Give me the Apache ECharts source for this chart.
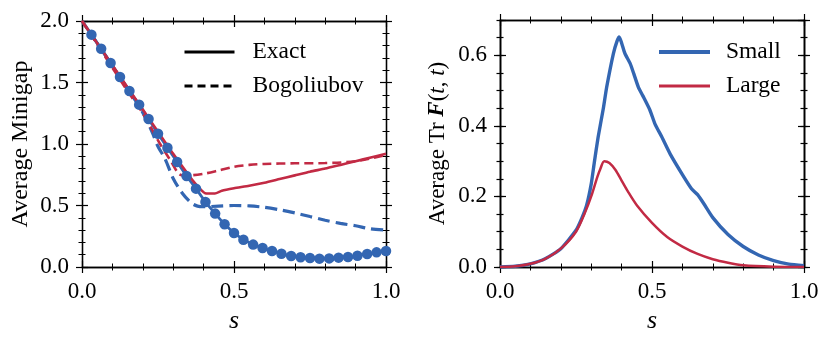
<!DOCTYPE html>
<html>
<head>
<meta charset="utf-8">
<script src="https://cdn.jsdelivr.net/npm/echarts@6/dist/echarts.min.js"></script>
<style>
  html, body { margin: 0; padding: 0; background: #fff; }
  #chart { width: 831px; height: 341px; }
</style>
</head>
<body>
<div id="chart"></div>
<script>
// left panel: average minigap
var sDots = [0.031, 0.063, 0.094, 0.125, 0.156, 0.188, 0.219, 0.25, 0.281, 0.313, 0.344, 0.375, 0.406, 0.438, 0.469, 0.5, 0.531, 0.563, 0.594, 0.625, 0.656, 0.688, 0.719, 0.75, 0.781, 0.813, 0.844, 0.875, 0.906, 0.938, 0.969, 1.0];
var smallExact = [1.889, 1.775, 1.659, 1.545, 1.431, 1.32, 1.203, 1.084, 0.97, 0.854, 0.74, 0.637, 0.528, 0.434, 0.347, 0.276, 0.222, 0.182, 0.154, 0.13, 0.108, 0.089, 0.079, 0.073, 0.068, 0.07, 0.076, 0.081, 0.092, 0.106, 0.119, 0.13];

var sSmallBog = [0, 0.05, 0.1, 0.15, 0.2, 0.23, 0.25, 0.273, 0.3, 0.33, 0.36, 0.38, 0.4, 0.45, 0.5, 0.55, 0.6, 0.65, 0.7, 0.75, 0.8, 0.85, 0.9, 0.95, 1.0];
var smallBog = [2.0, 1.82, 1.635, 1.45, 1.255, 1.1, 0.98, 0.88, 0.72, 0.6, 0.52, 0.495, 0.49, 0.495, 0.5, 0.497, 0.485, 0.465, 0.44, 0.41, 0.38, 0.355, 0.335, 0.31, 0.3];

var sLargeExact = [0, 0.05, 0.1, 0.15, 0.2, 0.25, 0.3, 0.35, 0.372, 0.39, 0.405, 0.437, 0.46, 0.5, 0.55, 0.6, 0.65, 0.7, 0.75, 0.8, 0.85, 0.9, 0.95, 1.0];
var largeExact = [2.0, 1.82, 1.64, 1.46, 1.28, 1.1, 0.92, 0.75, 0.68, 0.63, 0.6, 0.597, 0.62, 0.64, 0.66, 0.685, 0.715, 0.745, 0.775, 0.8, 0.83, 0.86, 0.89, 0.92];

var sLargeBog = [0, 0.05, 0.1, 0.15, 0.2, 0.257, 0.29, 0.317, 0.33, 0.35, 0.4, 0.45, 0.5, 0.55, 0.6, 0.7, 0.8, 0.9, 1.0];
var largeBog = [2.0, 1.81, 1.62, 1.43, 1.25, 1.0, 0.87, 0.76, 0.745, 0.745, 0.758, 0.785, 0.815, 0.83, 0.838, 0.843, 0.845, 0.86, 0.91];

// right panel: average Tr F(t,t)
var sSmall = [0, 0.05, 0.1, 0.15, 0.2, 0.25, 0.27, 0.285, 0.3, 0.31, 0.323, 0.34, 0.351, 0.373, 0.385, 0.392, 0.4, 0.411, 0.428, 0.44, 0.455, 0.47, 0.493, 0.51, 0.532, 0.56, 0.6, 0.63, 0.65, 0.67, 0.7, 0.75, 0.8, 0.85, 0.9, 0.95, 1.0];
var small = [0, 0.002, 0.009, 0.024, 0.052, 0.104, 0.14, 0.175, 0.235, 0.295, 0.369, 0.45, 0.51, 0.605, 0.64, 0.652, 0.635, 0.605, 0.577, 0.548, 0.51, 0.485, 0.445, 0.405, 0.369, 0.32, 0.262, 0.222, 0.205, 0.18, 0.14, 0.092, 0.058, 0.034, 0.018, 0.008, 0.004];

var sLarge = [0, 0.05, 0.1, 0.15, 0.2, 0.25, 0.28, 0.3, 0.32, 0.33, 0.343, 0.36, 0.38, 0.4, 0.42, 0.45, 0.5, 0.55, 0.6, 0.65, 0.7, 0.75, 0.8, 0.9, 1.0];
var large = [0, 0.002, 0.009, 0.024, 0.052, 0.1, 0.155, 0.2, 0.255, 0.278, 0.3, 0.295, 0.275, 0.245, 0.215, 0.175, 0.125, 0.085, 0.058, 0.037, 0.022, 0.012, 0.005, 0.001, 0];

var xTicks = [0, 1, 0.5];        // min, max, interval
var yTicksLeft = [0, 2, 0.5];
var yTicksRight = [0, 0.7, 0.2];

var BLUE = '#3366b2';
var RED = '#c22a44';
var FONT = 'Liberation Serif';

function pairs(xs, ys) {
  return xs.map(function (x, i) { return [x, ys[i]]; });
}

// matplotlib style ticks crossing the spine: one axis draws them outside, a twin draws them inside
function twinAxes(gridIndex, position, range, minorSplit, tickLen, main) {
  var res = [];
  [false, true].forEach(function (inside) {
    var ax = {
      type: 'value',
      gridIndex: gridIndex,
      position: position,
      min: range[0],
      max: range[1],
      interval: range[2],
      splitLine: { show: false },
      axisLine: { show: true, onZero: false, lineStyle: { color: '#000', width: 1.3 } },
      axisTick: { show: true, inside: inside, length: tickLen, lineStyle: { color: '#000', width: 1.2 } },
      minorTick: { show: minorSplit > 0, splitNumber: minorSplit || 5, length: 3.5, lineStyle: { color: '#000', width: 1 } },
      axisLabel: { show: false }
    };
    if (main && !inside) {
      ax.axisLabel = {
        show: true, fontFamily: FONT, fontSize: 23, color: '#000', margin: main.margin,
        showMaxLabel: main.showMax,
        formatter: function (v) { return v.toFixed(1); }
      };
      ax.name = main.name;
      ax.nameLocation = 'middle';
      ax.nameGap = main.nameGap;
      ax.nameTextStyle = main.nameStyle;
    }
    res.push(ax);
  });
  return res;
}

var nameStyle = { fontFamily: FONT, fontSize: 24, color: '#000' };
var sStyle = { fontFamily: FONT, fontSize: 26, fontStyle: 'italic', color: '#000' };
var trStyle = {
  fontFamily: FONT, fontSize: 23, color: '#000',
  rich: {
    n: { fontFamily: FONT, fontSize: 23, color: '#000' },
    b: { fontFamily: FONT, fontSize: 23, color: '#000', fontWeight: 'bold', fontStyle: 'italic' },
    i: { fontFamily: FONT, fontSize: 23, color: '#000', fontStyle: 'italic' }
  }
};

var xAxes = [].concat(
  twinAxes(0, 'bottom', xTicks, 5, 6, { name: 's', nameGap: 36, nameStyle: sStyle, margin: 13, showMax: true }),
  twinAxes(0, 'top', xTicks, 5, 6, null),
  twinAxes(1, 'bottom', xTicks, 5, 6, { name: 's', nameGap: 36, nameStyle: sStyle, margin: 13, showMax: true }),
  twinAxes(1, 'top', xTicks, 5, 6, null)
);

var yAxes = [].concat(
  twinAxes(0, 'left', yTicksLeft, 5, 6, { name: 'Average Minigap', nameGap: 49, nameStyle: nameStyle, margin: 13, showMax: true }),
  twinAxes(0, 'right', yTicksLeft, 5, 6, null),
  twinAxes(1, 'left', yTicksRight, 0, 6, { name: '{n|Average Tr }{b|F}{n|(}{i|t}{n|, }{i|t}{n|)}', nameGap: 51, nameStyle: trStyle, margin: 13, showMax: false }),
  twinAxes(1, 'right', yTicksRight, 0, 6, null),
  // minor ticks every 0.05 on the right panel
  twinAxes(1, 'left', [0, 0.7, 0.05], 0, 3.5, null),
  twinAxes(1, 'right', [0, 0.7, 0.05], 0, 3.5, null)
);
// axis index of the right panel's main axes
var R_Y = 4;
var R_X = 4;

var legendText = { fontFamily: FONT, fontSize: 23.5, color: '#000', padding: [0, 0, 0, 13] };

var option = {
  animation: false,
  backgroundColor: '#fff',
  grid: [
    { left: 82, top: 21, width: 304, height: 246 },
    { left: 500, top: 20, width: 304, height: 247 }
  ],
  xAxis: xAxes,
  yAxis: yAxes,
  legend: [
    {
      data: [
        { name: 'Exact', lineStyle: { width: 3 } },
        { name: 'Bogoliubov', lineStyle: { width: 3 } }
      ],
      orient: 'vertical', padding: 0, left: 183, top: 40,
      itemWidth: 50, itemHeight: 22, itemGap: 10,
      itemStyle: { opacity: 0 }, textStyle: legendText
    },
    {
      data: [
        { name: 'Small', lineStyle: { width: 4 } },
        { name: 'Large', lineStyle: { width: 3 } }
      ],
      orient: 'vertical', padding: 0, left: 657, top: 40,
      itemWidth: 51, itemHeight: 22, itemGap: 10,
      itemStyle: { opacity: 0 },
      textStyle: Object.assign({}, legendText, { padding: [0, 0, 0, 11] })
    }
  ],
  series: [
    {
      name: 'Bogoliubov small', type: 'line', xAxisIndex: 0, yAxisIndex: 0,
      data: pairs(sSmallBog, smallBog), symbol: 'none', smooth: 0.3,
      lineStyle: { color: BLUE, width: 3.2, type: [12, 6] }, color: BLUE
    },
    {
      name: 'Exact small', type: 'line', xAxisIndex: 0, yAxisIndex: 0,
      data: pairs(sDots, smallExact), symbol: 'circle', symbolSize: 10.5,
      itemStyle: { color: BLUE }, lineStyle: { color: BLUE, width: 2.8 }, color: BLUE
    },
    {
      name: 'Bogoliubov large', type: 'line', xAxisIndex: 0, yAxisIndex: 0,
      data: pairs(sLargeBog, largeBog), symbol: 'none', smooth: 0.3,
      lineStyle: { color: RED, width: 2.6, type: [9, 5] }, color: RED
    },
    {
      name: 'Exact large', type: 'line', xAxisIndex: 0, yAxisIndex: 0,
      data: pairs(sLargeExact, largeExact), symbol: 'none', smooth: 0.2,
      lineStyle: { color: RED, width: 2.6 }, color: RED
    },
    // legend keys of the left panel
    {
      name: 'Exact', type: 'line', xAxisIndex: 0, yAxisIndex: 0, data: [], symbol: 'none',
      color: '#000', lineStyle: { color: '#000', width: 3 }
    },
    {
      name: 'Bogoliubov', type: 'line', xAxisIndex: 0, yAxisIndex: 0, data: [], symbol: 'none',
      color: '#000', lineStyle: { color: '#000', width: 3, type: [8, 5] }
    },
    {
      name: 'Small', type: 'line', xAxisIndex: R_X, yAxisIndex: R_Y,
      data: pairs(sSmall, small), symbol: 'none', smooth: 0.2,
      lineStyle: { color: BLUE, width: 3.4 }, color: BLUE
    },
    {
      name: 'Large', type: 'line', xAxisIndex: R_X, yAxisIndex: R_Y,
      data: pairs(sLarge, large), symbol: 'none', smooth: 0.3,
      lineStyle: { color: RED, width: 2.5 }, color: RED
    }
  ]
};

var chart = echarts.init(document.getElementById('chart'), null, { renderer: 'canvas' });
chart.setOption(option);
</script>
</body>
</html>
